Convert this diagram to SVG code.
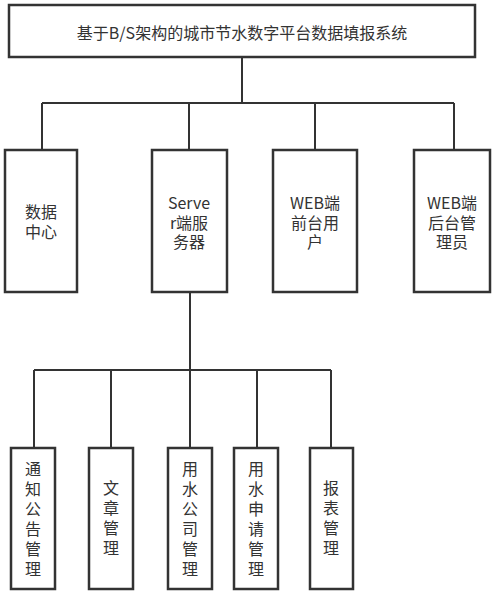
<svg xmlns="http://www.w3.org/2000/svg" width="500" height="595" viewBox="0 0 500 595">
<style>
.box{fill:#fff;stroke:#333;stroke-width:2.5}
.ln{fill:none;stroke:#333;stroke-width:2}
text{font-family:"Noto Sans CJK SC","Microsoft YaHei",sans-serif;font-size:16px;fill:#333;text-anchor:middle;dominant-baseline:central}
</style>
<rect width="500" height="595" fill="#fff"/>
<g id="connectors">
<path class="ln" d="M242 57V103M42 103H454M42 103V150M189 103V150M315 103V150M454 103V150"/>
<path class="ln" d="M190 292V370M34 370H331M34 370V448M111 370V448M190 370V448M257 370V448M331 370V448"/>
</g>
<g id="root"><rect class="box" x="9" y="5" width="466" height="52"/><text x="242" y="32">基于B/S架构的城市节水数字平台数据填报系统</text></g>
<g id="n1"><rect class="box" x="5" y="150" width="72" height="142"/><text x="41" y="211">数据</text><text x="41" y="231">中心</text></g>
<g id="n2"><rect class="box" x="152" y="150" width="75" height="142"/><text x="189" y="202">Serve</text><text x="189" y="222">r端服</text><text x="189" y="241">务器</text></g>
<g id="n3"><rect class="box" x="273" y="150" width="84" height="142"/><text x="315" y="202">WEB端</text><text x="315" y="222">前台用</text><text x="315" y="241">户</text></g>
<g id="n4"><rect class="box" x="414" y="150" width="76" height="142"/><text x="452" y="202">WEB端</text><text x="452" y="222">后台管</text><text x="452" y="241">理员</text></g>
<g id="m1"><rect class="box" x="11" y="448" width="44" height="141"/><text x="33" y="468">通</text><text x="33" y="488">知</text><text x="33" y="508">公</text><text x="33" y="528">告</text><text x="33" y="548">管</text><text x="33" y="568">理</text></g>
<g id="m2"><rect class="box" x="89" y="448" width="44" height="141"/><text x="111" y="487">文</text><text x="111" y="507">章</text><text x="111" y="527">管</text><text x="111" y="547">理</text></g>
<g id="m3"><rect class="box" x="168" y="448" width="44" height="141"/><text x="190" y="468">用</text><text x="190" y="488">水</text><text x="190" y="508">公</text><text x="190" y="528">司</text><text x="190" y="548">管</text><text x="190" y="568">理</text></g>
<g id="m4"><rect class="box" x="234" y="448" width="44" height="141"/><text x="256" y="468">用</text><text x="256" y="488">水</text><text x="256" y="508">申</text><text x="256" y="528">请</text><text x="256" y="548">管</text><text x="256" y="568">理</text></g>
<g id="m5"><rect class="box" x="310" y="448" width="43" height="141"/><text x="331" y="487">报</text><text x="331" y="507">表</text><text x="331" y="527">管</text><text x="331" y="547">理</text></g>
</svg>
